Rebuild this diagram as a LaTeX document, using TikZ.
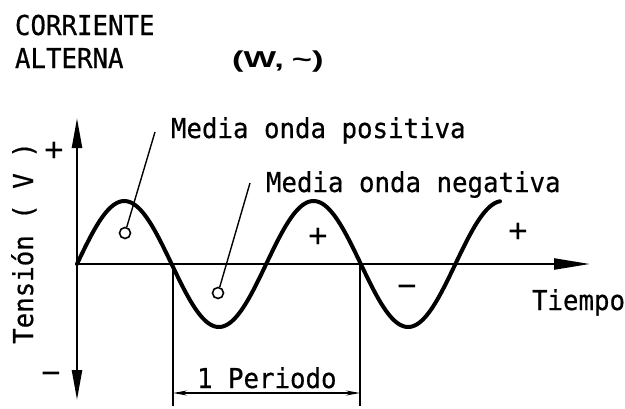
\documentclass[tikz,border=0pt]{standalone}
\usepackage{fontspec}
\usetikzlibrary{arrows.meta}
\newfontfamily\monofnt[FakeStretch=0.94,FakeBold=0.6]{DejaVu Sans Mono}
\newfontfamily\signfnt{DejaVu Sans Mono}
\newfontfamily\boldfnt[FakeStretch=1.5]{Liberation Sans Bold}
\tikzset{
  lbl/.style={inner sep=0pt, outer sep=0pt, font=\monofnt\fontsize{27.4}{30}\selectfont},
  sign/.style={inner sep=0pt, outer sep=0pt, font=\signfnt\fontsize{32}{34}\selectfont},
  axis/.style={line width=2.4pt},
  wave/.style={line width=4pt, line cap=round},
  leader/.style={line width=1.4pt},
  dim/.style={line width=1.3pt},
  marker/.style={circle, draw, line width=1.6pt, fill=white, minimum size=11pt, inner sep=0pt}
}
\begin{document}
\begin{tikzpicture}[x=1pt, y=-1pt]
\useasboundingbox (0,0) rectangle (625,408);
% titles
\node[lbl, anchor=base west] (t1) at (15,35) {CORRIENTE};
\node[lbl, anchor=base west] (t2) at (15,68) {ALTERNA};
\node[inner sep=0pt, anchor=base west, font=\boldfnt\fontsize{23}{26}\selectfont] (t3) at (232,67) {(W,\hspace{8pt}\char"7E)};
% axes
\coordinate (o) at (77,264);
\coordinate (ytop) at (77,118);
\coordinate (ybot) at (77,400);
\coordinate (xend) at (590,264);
\draw[axis, -{Triangle[length=30pt,width=10pt]}] (o) -- (ytop);
\draw[axis, -{Triangle[length=30pt,width=10pt]}] (o) -- (ybot);
\draw[axis, -{Triangle[length=36pt,width=11pt]}] (o) -- (xend);
% wave
\draw[wave] plot[domain=77:500, samples=220, smooth] (\x, {264-63*sin((\x-77)*1.9027)});
% axis labels
\node[lbl, anchor=base, rotate=90] (ylab) at (33,243) {Tensión ( V )};
\node[sign] (yplus) at (54,151) {+};
\node[sign] (yminus) at (51,378) {\char"2212};
\node[lbl, anchor=base west] (tl) at (532,310) {Tiempo};
% signs in wave
\node[sign] (p1) at (318,237) {+};
\node[sign] (p2) at (518,232) {+};
\node[sign] (m1) at (407,291) {\char"2212};
% leaders
\node[lbl, anchor=base west] (lp) at (171,138) {Media onda positiva};
\node[lbl, anchor=base west] (ln) at (266,192) {Media onda negativa};
\node[marker] (c1) at (125,233) {};
\node[marker] (c2) at (218,293) {};
\coordinate (l1) at (155,132);
\coordinate (l2) at (250,183);
\draw[leader] (l1) -- (c1);
\draw[leader] (l2) -- (c2);
% period dimension
\coordinate (pa) at (173,264);
\coordinate (pb) at (360,264);
\coordinate (pa2) at (173,406);
\coordinate (pb2) at (360,406);
\draw[dim] (pa) -- (pa2);
\draw[dim] (pb) -- (pb2);
\coordinate (da) at (173,393);
\coordinate (db) at (360,393);
\draw[dim, {Stealth[length=14pt,width=5pt]}-{Stealth[length=14pt,width=5pt]}] (da) -- (db);
\node[lbl, anchor=base west] (per) at (197,388) {1 Periodo};
\end{tikzpicture}
\end{document}
